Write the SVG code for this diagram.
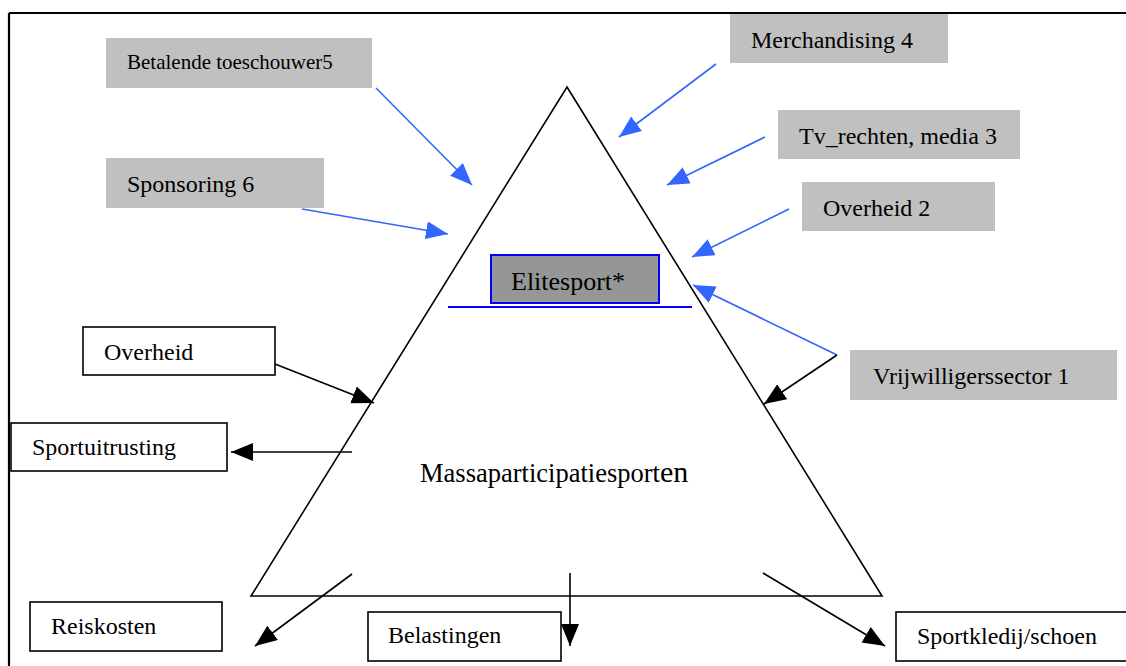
<svg xmlns="http://www.w3.org/2000/svg" width="1126" height="666" viewBox="0 0 1126 666">
<style>
text{font-family:"Liberation Serif","Times New Roman",serif;fill:#000;font-size:24px}
.s21{font-size:21px}
.s26{font-size:26px}
.s265{font-size:26.5px}
.s30{font-size:30px}
.g{fill:#c0c0c0;stroke:none}
.w{fill:#fff;stroke:#000;stroke-width:1.6}
.blue{stroke:#3366ff;stroke-width:1.6;fill:none}
.blk{stroke:#000;stroke-width:1.6;fill:none}
</style>
<defs>
<marker id="ab" markerUnits="userSpaceOnUse" markerWidth="24" markerHeight="20" refX="22" refY="9" orient="auto"><path d="M0,0 L22,9 L0,18 z" fill="#3366ff"/></marker>
<marker id="ak" markerUnits="userSpaceOnUse" markerWidth="24" markerHeight="20" refX="22" refY="9" orient="auto"><path d="M0,0 L22,9 L0,18 z" fill="#000"/></marker>
</defs>
<rect width="1126" height="666" fill="#fff"/>
<g id="frame" stroke="#000" stroke-width="2.2" fill="none">
<line x1="9" y1="13" x2="1126" y2="13"/>
<line x1="9" y1="13" x2="9" y2="666"/>
</g>
<g id="pyramid">
<polygon points="567,87 882,596 251,596" fill="none" stroke="#000" stroke-width="1.6"/>
<text x="420" y="482" class="s265">Massaparticipatiesport<tspan class="s30">en</tspan></text>
</g>
<g id="elitesport">
<rect x="491" y="255" width="168" height="48" fill="#969696" stroke="#0000ff" stroke-width="2"/>
<text x="511" y="290" class="s26">Elitesport*</text>
<line x1="448" y1="307" x2="692" y2="307" stroke="#0000ff" stroke-width="2"/>
</g>
<g id="betalende"><rect class="g" x="106" y="38" width="266" height="50"/><text x="127" y="69" class="s21">Betalende toeschouwer5</text></g>
<g id="sponsoring"><rect class="g" x="106" y="158" width="218" height="50"/><text x="127" y="192">Sponsoring 6</text></g>
<g id="merchandising"><rect class="g" x="730" y="14" width="218" height="49"/><text x="751" y="48">Merchandising 4</text></g>
<g id="tvrechten"><rect class="g" x="778" y="110" width="242" height="49"/><text x="799" y="144">Tv_rechten, media 3</text></g>
<g id="overheid2"><rect class="g" x="802" y="182" width="193" height="49"/><text x="823" y="216">Overheid 2</text></g>
<g id="vrijwilligers"><rect class="g" x="850" y="350" width="267" height="50"/><text x="873" y="384">Vrijwilligerssector 1</text></g>
<g id="overheid"><rect class="w" x="83" y="327" width="192" height="48"/><text x="104" y="360">Overheid</text></g>
<g id="sportuitrusting"><rect class="w" x="11" y="423" width="216" height="48"/><text x="32" y="455">Sportuitrusting</text></g>
<g id="reiskosten"><rect class="w" x="30" y="602" width="192" height="49"/><text x="51" y="634">Reiskosten</text></g>
<g id="belastingen"><rect class="w" x="368" y="612" width="193" height="49"/><text x="388" y="643">Belastingen</text></g>
<g id="sportkledij"><rect class="w" x="896" y="612" width="240" height="49"/><text x="917" y="644">Sportkledij/schoen</text></g>
<g id="connectors">
<line class="blue" x1="376" y1="88" x2="472" y2="185" marker-end="url(#ab)"/>
<line class="blue" x1="302" y1="209" x2="448" y2="234" marker-end="url(#ab)"/>
<line class="blue" x1="716" y1="64" x2="619" y2="137" marker-end="url(#ab)"/>
<line class="blue" x1="765" y1="137" x2="667" y2="185" marker-end="url(#ab)"/>
<line class="blue" x1="789" y1="209" x2="692" y2="257" marker-end="url(#ab)"/>
<line class="blue" x1="837" y1="355" x2="693" y2="285" marker-end="url(#ab)"/>
<line class="blk" x1="837" y1="355" x2="764" y2="404" marker-end="url(#ak)"/>
<line class="blk" x1="275" y1="364" x2="374" y2="403" marker-end="url(#ak)"/>
<line class="blk" x1="352" y1="452" x2="231" y2="452" marker-end="url(#ak)"/>
<line class="blk" x1="352" y1="574" x2="255" y2="646" marker-end="url(#ak)"/>
<line class="blk" x1="570" y1="573" x2="570" y2="646" marker-end="url(#ak)"/>
<line class="blk" x1="763" y1="573" x2="885" y2="646" marker-end="url(#ak)"/>
</g>
</svg>
